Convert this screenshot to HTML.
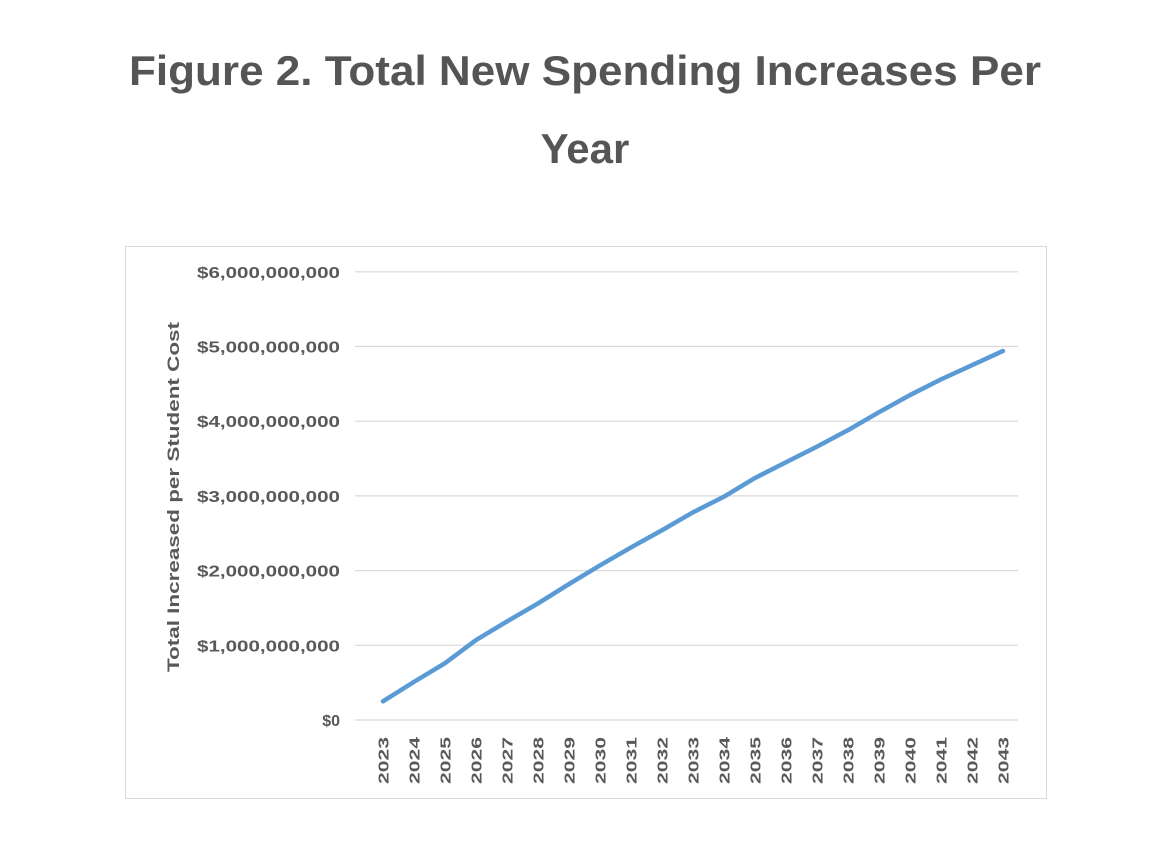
<!DOCTYPE html>
<html><head><meta charset="utf-8"><style>
html,body{margin:0;padding:0;background:#fff;}
svg{display:block;font-family:"Liberation Sans",sans-serif;}
</style></head><body>
<svg id="c" width="1170" height="851">
<text x="585" y="85" text-anchor="middle" font-size="42" font-weight="bold" fill="#555" textLength="912" lengthAdjust="spacingAndGlyphs">Figure 2. Total New Spending Increases Per</text>
<text x="585" y="163" text-anchor="middle" font-size="42" font-weight="bold" fill="#555">Year</text>
<rect x="125.5" y="246.5" width="921" height="552" fill="#fff" stroke="#d9d9d9"/>
<text transform="translate(179,497) rotate(-90)" text-anchor="middle" font-size="17" font-weight="bold" fill="#595959" textLength="350" lengthAdjust="spacingAndGlyphs">Total  Increased per Student Cost</text>
<g id="grid"></g><g id="ylab"></g><g id="xlab"></g><g id="series"></g>
</svg>
<script>
const years=["2023","2024","2025","2026","2027","2028","2029","2030","2031","2032","2033","2034","2035","2036","2037","2038","2039","2040","2041","2042","2043"];
const values=[0.25,0.51,0.76,1.07,1.32,1.56,1.82,2.07,2.31,2.54,2.78,2.99,3.24,3.45,3.66,3.88,4.12,4.35,4.56,4.75,4.94];
const yTicks=[0,1,2,3,4,5,6];
const yTickLabels=["$0","$1,000,000,000","$2,000,000,000","$3,000,000,000","$4,000,000,000","$5,000,000,000","$6,000,000,000"];
const NS="http://www.w3.org/2000/svg";
const y0=720,yPer=74.7,xL=355,xR=1018;
function yS(v){return y0-v*yPer;}
function xS(i){return 383+i*(1003-383)/(years.length-1);}
const grid=document.getElementById('grid'),ylab=document.getElementById('ylab'),xlab=document.getElementById('xlab'),ser=document.getElementById('series');
yTicks.forEach((t,i)=>{
  const l=document.createElementNS(NS,'line');
  l.setAttribute('x1',xL);l.setAttribute('x2',xR);l.setAttribute('y1',yS(t));l.setAttribute('y2',yS(t));
  l.setAttribute('stroke','#d9d9d9');l.setAttribute('stroke-width','1.2');
  
  
  grid.appendChild(l);
  const tx=document.createElementNS(NS,'text');
  tx.setAttribute('x',340);tx.setAttribute('y',yS(t)+6);tx.setAttribute('text-anchor','end');
  tx.setAttribute('font-size','16');tx.setAttribute('font-weight','bold');tx.setAttribute('fill','#595959');
  if(yTickLabels[i].length>5){tx.setAttribute('textLength','143');tx.setAttribute('lengthAdjust','spacingAndGlyphs');}
  tx.textContent=yTickLabels[i];
  
  
  ylab.appendChild(tx);
});
years.forEach((yr,i)=>{
  const tx=document.createElementNS(NS,'text');
  tx.setAttribute('transform','translate('+(xS(i)+5.5)+',737) rotate(-90)');
  tx.setAttribute('text-anchor','end');tx.setAttribute('font-size','15');tx.setAttribute('font-weight','bold');tx.setAttribute('fill','#595959');
  tx.setAttribute('textLength','47');tx.setAttribute('lengthAdjust','spacingAndGlyphs');
  tx.textContent=yr;
  
  
  xlab.appendChild(tx);
});
const p=document.createElementNS(NS,'polyline');
p.setAttribute('points',values.map((v,i)=>xS(i)+','+yS(v)).join(' '));
p.setAttribute('fill','none');p.setAttribute('stroke','#5b9bd5');p.setAttribute('stroke-width','4.5');
p.setAttribute('stroke-linecap','round');p.setAttribute('stroke-linejoin','round');


ser.appendChild(p);
</script>
</body></html>
